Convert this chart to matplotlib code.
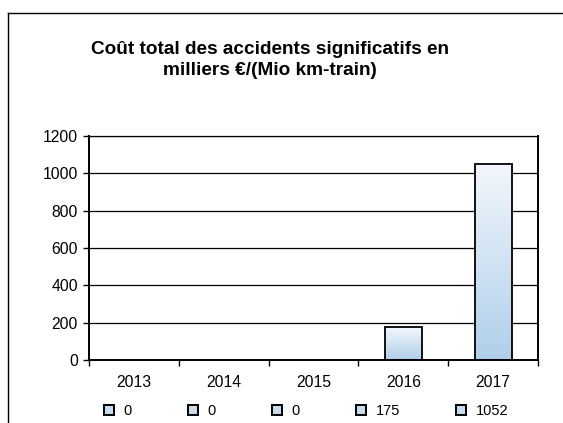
import matplotlib
matplotlib.use("Agg")
import matplotlib.pyplot as plt
import numpy as np
from matplotlib.lines import Line2D

plt.rcParams['font.family'] = ['Liberation Sans', 'DejaVu Sans']

years = ["2013", "2014", "2015", "2016", "2017"]
values = [0, 0, 0, 175, 1052]
legend_labels = ["0", "0", "0", "175", "1052"]
title = "Coût total des accidents significatifs en\nmilliers €/(Mio km-train)"

W, H = 563, 423
fig = plt.figure(figsize=(W / 100, H / 100), dpi=100)
fig.patch.set_facecolor("white")

# outer chart border
fig.add_artist(Line2D([8 / W, 8 / W], [0, 1 - 13 / H], transform=fig.transFigure, color="black", lw=1.0))
fig.add_artist(Line2D([8 / W, 1], [1 - 13 / H, 1 - 13 / H], transform=fig.transFigure, color="black", lw=1.0))

left, right, top, bottom = 89, 538, 136, 360
ax = fig.add_axes([left / W, 1 - bottom / H, (right - left) / W, (bottom - top) / H])

x = np.arange(len(years))
ax.yaxis.grid(True, color="black", lw=0.9)
ax.set_axisbelow(True)

bars = ax.bar(x, values, width=0.41, facecolor="none",
              edgecolor=["black" if v > 0 else "none" for v in values], lw=1.3, zorder=3)

# vertical gradient fill
grad = np.linspace(0, 1, 256).reshape(-1, 1)
c_top = np.array([0.95, 0.97, 0.99])
c_bot = np.array([0.69, 0.81, 0.92])
for b in bars:
    h = b.get_height()
    if h <= 0:
        continue
    x0 = b.get_x()
    w = b.get_width()
    img = c_bot[None, None, :] * (1 - grad[:, :, None]) + c_top[None, None, :] * grad[:, :, None]
    im = ax.imshow(img, extent=[x0, x0 + w, 0, h], origin="lower", aspect="auto", zorder=2)
    im.set_clip_path(b)
ax.set_xlim(-0.5, len(years) - 0.5)
ax.set_ylim(0, 1200)
ax.set_yticks(np.arange(0, 1201, 200))

ax.set_xticks(x)
ax.set_xticklabels(years, fontsize=11.3)
ax.tick_params(axis="x", length=0, pad=11)
ax.set_xticks(np.arange(-0.5, len(years), 1), minor=True)
ax.tick_params(axis="x", which="minor", length=4, direction="out", width=1)
ax.tick_params(axis="y", length=4, direction="out", width=1, labelsize=11.3, pad=4)

for s in ["left", "bottom", "right", "top"]:
    ax.spines[s].set_linewidth(1.4)
    ax.spines[s].set_color("black")
ax.spines["top"].set_linewidth(0.9)

fig.text(270 / W, 1 - 60 / H, title, ha="center", va="center", fontsize=13.7,
         fontweight="bold", linespacing=1.25)

handles = [Line2D([], [], marker="s", ls="none", markersize=6.5, markerfacecolor="#c8dcef",
                  markeredgecolor="black", markeredgewidth=1.4) for _ in years]
fig.legend(handles, legend_labels, loc="center", bbox_to_anchor=(305 / W, 1 - 411 / H), ncol=5,
           frameon=False, fontsize=10.5, columnspacing=3.7, handletextpad=0.5, handlelength=1.0)

fig.savefig("out.png", dpi=100)
